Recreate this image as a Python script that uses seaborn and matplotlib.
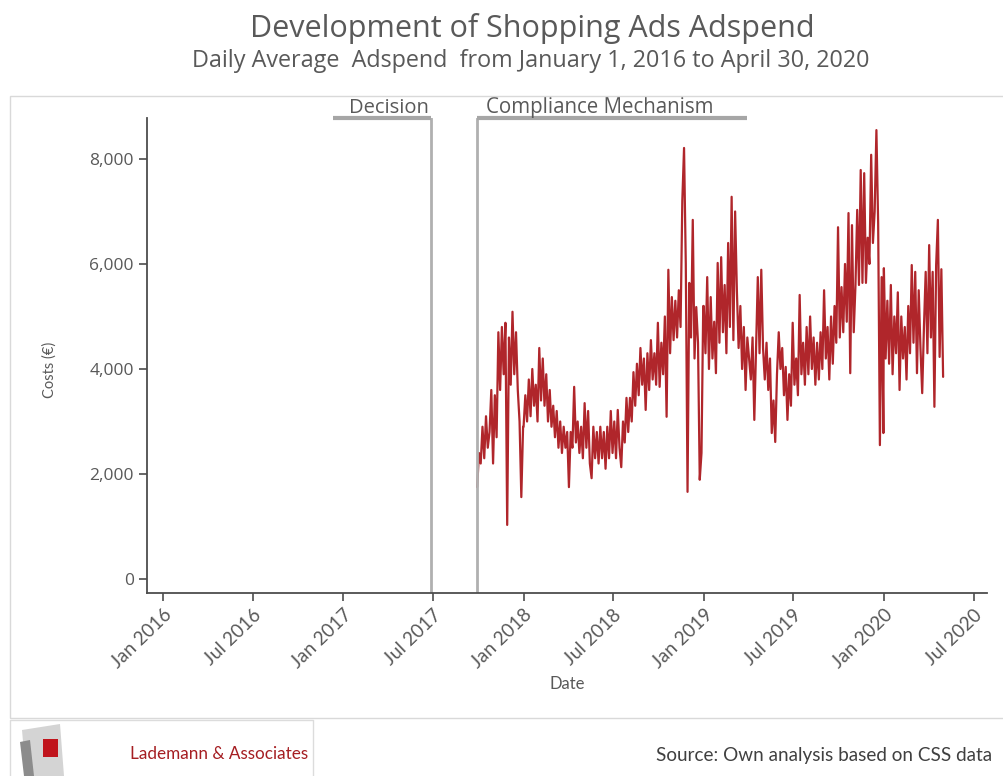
import pandas as pd
import matplotlib
matplotlib.use("Agg")
import matplotlib.pyplot as plt
import matplotlib.dates as mdates
from matplotlib.patches import Rectangle, Polygon
from matplotlib.lines import Line2D
from matplotlib.ticker import FuncFormatter
import seaborn as sns

# Daily average adspend (approx. two points per week)
spend_2017 = [1750, 2400, 2200, 2900, 2300, 3100, 2500, 2800, 3600, 2200, 3500, 2700, 4700, 3600,
              4800, 3900, 4880, 1030, 4600, 3700, 5090, 3900, 4700, 3600, 3000, 1560, 2900]
spend_2018 = [2900, 3500, 3000, 3800, 3100, 4000, 3300, 3700, 3000,
              4400, 3400, 4200, 3300, 3900, 3000, 3600, 2900,
              3300, 2700, 3200, 2500, 3000, 2400, 2900, 2500, 2800,
              1750, 2800, 2500, 3660, 2600, 3000, 2400, 2900,
              2300, 3350, 2500, 3200, 2200, 1920, 2900, 2300, 2800,
              2200, 2900, 2300, 2800, 2100, 2900, 2300, 3200,
              2400, 3000, 2300, 3220, 2500, 2130, 3000, 2600, 3450,
              2800, 3450, 3000, 3940, 3300, 4100, 3500, 4400, 3700,
              4200, 3220, 4300, 3600, 4550, 3800, 4300, 3700,
              4880, 3660, 4500, 3900, 5000, 3090, 5890, 4300, 5370,
              4550, 5300, 4600, 5500, 4800, 7200, 8210, 6000, 1660,
              5640, 4600, 6840, 4200, 5180, 4500, 1890, 2400, 5200]
spend_2019 = [5200, 4300, 5750, 4000, 5370, 4200, 4900, 3920, 6020,
              4500, 6130, 4700, 5600, 4300, 6400, 4800, 7280,
              4550, 7000, 5500, 4400, 5200, 4000, 4800, 3600, 4600,
              4200, 3800, 4600, 3030, 4400, 5750, 4300, 5890,
              4400, 3800, 4500, 3600, 4200, 2780, 3400, 2610, 3900,
              4700, 4000, 4400, 3500, 4040, 3030, 3900, 3300,
              4880, 3700, 4200, 3500, 5410, 3900, 4500, 3700, 4800,
              3900, 5000, 4000, 4600, 3700, 4500, 3800, 4700, 4000,
              5500, 4200, 4800, 3800, 5000, 4100, 5200, 4500,
              6700, 4600, 5560, 4700, 6000, 4900, 6970, 3920, 6740,
              4700, 5600, 7030, 5600, 7790, 5640, 7730, 5640, 6500,
              6000, 8080, 6400, 7000, 8550, 6780, 2550, 5750, 2780]
spend_2020 = [5920, 4200, 5300, 4100, 5600, 3900, 5000, 4300, 5460, 3600, 5000, 4200,
              4800, 3800, 5200, 4300, 5980, 4500, 5850, 3920, 5500, 4400, 3540, 4800,
              5850, 4300, 6360, 4600, 5850, 3280, 5980, 6840, 4230, 5900, 3850]

periods = [("2017-09-29", "2017-12-31", spend_2017),
           ("2018-01-01", "2018-12-31", spend_2018),
           ("2019-01-01", "2019-12-31", spend_2019),
           ("2020-01-01", "2020-04-30", spend_2020)]

frames = []
for start, end, vals in periods:
    frames.append(pd.DataFrame({"Date": pd.date_range(start, end, periods=len(vals)),
                                "Costs": vals}))
df = pd.concat(frames, ignore_index=True)

decision_date = pd.Timestamp("2017-06-27")
decision_from = pd.Timestamp("2016-12-11")
compliance_date = pd.Timestamp("2017-09-28")
compliance_to = pd.Timestamp("2019-03-30")

sns.set_style("ticks")
plt.rcParams["font.family"] = ["Open Sans", "DejaVu Sans"]

grey_txt = "#595959"
axis_col = "#4d4d4d"
red = "#B0262B"

fig = plt.figure(figsize=(10.04, 7.76), dpi=100)
ax = fig.add_axes([0.1464, 0.2358, 0.8367, 0.6121])

sns.lineplot(data=df, x="Date", y="Costs", color=red, linewidth=1.6, ax=ax)

ax.set_xlim(pd.Timestamp("2015-11-30"), pd.Timestamp("2020-07-28"))
ax.set_ylim(-267, 8780)
ax.set_yticks([0, 2000, 4000, 6000, 8000])
ax.yaxis.set_major_formatter(FuncFormatter(lambda v, p: f"{v:,.0f}"))
ax.xaxis.set_major_locator(mdates.MonthLocator(bymonth=[1, 7]))
ax.xaxis.set_major_formatter(mdates.DateFormatter("%b %Y"))

for s in ["top", "right"]:
    ax.spines[s].set_visible(False)
for s in ["left", "bottom"]:
    ax.spines[s].set_color(axis_col)
    ax.spines[s].set_linewidth(1.3)
ax.tick_params(axis="both", colors=axis_col, length=6, width=1.2, labelcolor=grey_txt)
ax.tick_params(axis="y", labelsize=12.5)
for lab in ax.get_xticklabels():
    lab.set_rotation(44)
    lab.set_ha("right")
    lab.set_rotation_mode("anchor")
    lab.set_fontsize(13.5)
    lab.set_family(["Lato", "DejaVu Sans"])

ax.set_xlabel("Date", fontsize=12, color=grey_txt, family=["Lato", "DejaVu Sans"], labelpad=3)
ax.set_ylabel("Costs (€)", fontsize=10.5, color=grey_txt, family=["Lato", "DejaVu Sans"])
ax.yaxis.set_label_coords(-0.108, 0.47)

# event markers
line_grey = "#b0b0b0"
ax.axvline(decision_date, color=line_grey, lw=2)
ax.axvline(compliance_date, color=line_grey, lw=2)
ytop = ax.get_ylim()[1]
ax.plot([decision_from, decision_date], [ytop, ytop], color="#a6a6a6", lw=3, clip_on=False,
        solid_capstyle="butt")
ax.plot([compliance_date, compliance_to], [ytop, ytop], color="#a6a6a6", lw=3, clip_on=False,
        solid_capstyle="butt")
tr = ax.get_xaxis_transform()
ax.text(decision_date - pd.Timedelta(days=4), 1.011, "Decision", transform=tr, ha="right",
        va="baseline", fontsize=14.5, color=grey_txt)
ax.text(compliance_date + pd.Timedelta(days=18), 1.011, "Compliance Mechanism", transform=tr,
        ha="left", va="baseline", fontsize=14.8, color=grey_txt)

# titles
fig.text(0.530, 1 - 37 / 776, "Development of Shopping Ads Adspend", ha="center", va="baseline",
         fontsize=22, color=grey_txt)
fig.text(0.529, 1 - 67 / 776, "Daily Average  Adspend  from January 1, 2016 to April 30, 2020",
         ha="center", va="baseline", fontsize=16.8, color=grey_txt)

# frame around chart area
W, H = 1004, 776
def fx(x):
    return x / W
def fy(y):
    return 1 - y / H

fig.patches.append(Rectangle((fx(10), fy(718)), fx(1010) - fx(10), fy(96) - fy(718),
                             transform=fig.transFigure, fill=False, ec="#d9d9d9", lw=1))
fig.lines.append(Line2D([fx(10), fx(10), fx(313), fx(313)], [fy(776), fy(720), fy(720), fy(776)],
                        transform=fig.transFigure, color="#dcdcdc", lw=1))

# logo
fig.patches.append(Polygon([(fx(22), fy(730)), (fx(60), fy(724)), (fx(64), fy(776)), (fx(26), fy(776))],
                           closed=True, transform=fig.transFigure, fc="#d4d4d4", ec="none"))
fig.patches.append(Polygon([(fx(20), fy(742)), (fx(30), fy(740)), (fx(34), fy(776)), (fx(24), fy(776))],
                           closed=True, transform=fig.transFigure, fc="#8c8c8c", ec="none"))
fig.patches.append(Rectangle((fx(43), fy(757)), fx(58) - fx(43), fy(739) - fy(757),
                             transform=fig.transFigure, fc="#C0141C", ec="none"))
fig.text(fx(130), fy(759), "Lademann & Associates", ha="left", va="baseline", fontsize=12.3,
         color="#A51E22", family=["Lato", "DejaVu Sans"])
fig.text(fx(656), fy(761), "Source: Own analysis based on CSS data", ha="left", va="baseline",
         fontsize=13.6, color="#404040", family=["Lato", "DejaVu Sans"])

fig.savefig("out.png", dpi=100)
